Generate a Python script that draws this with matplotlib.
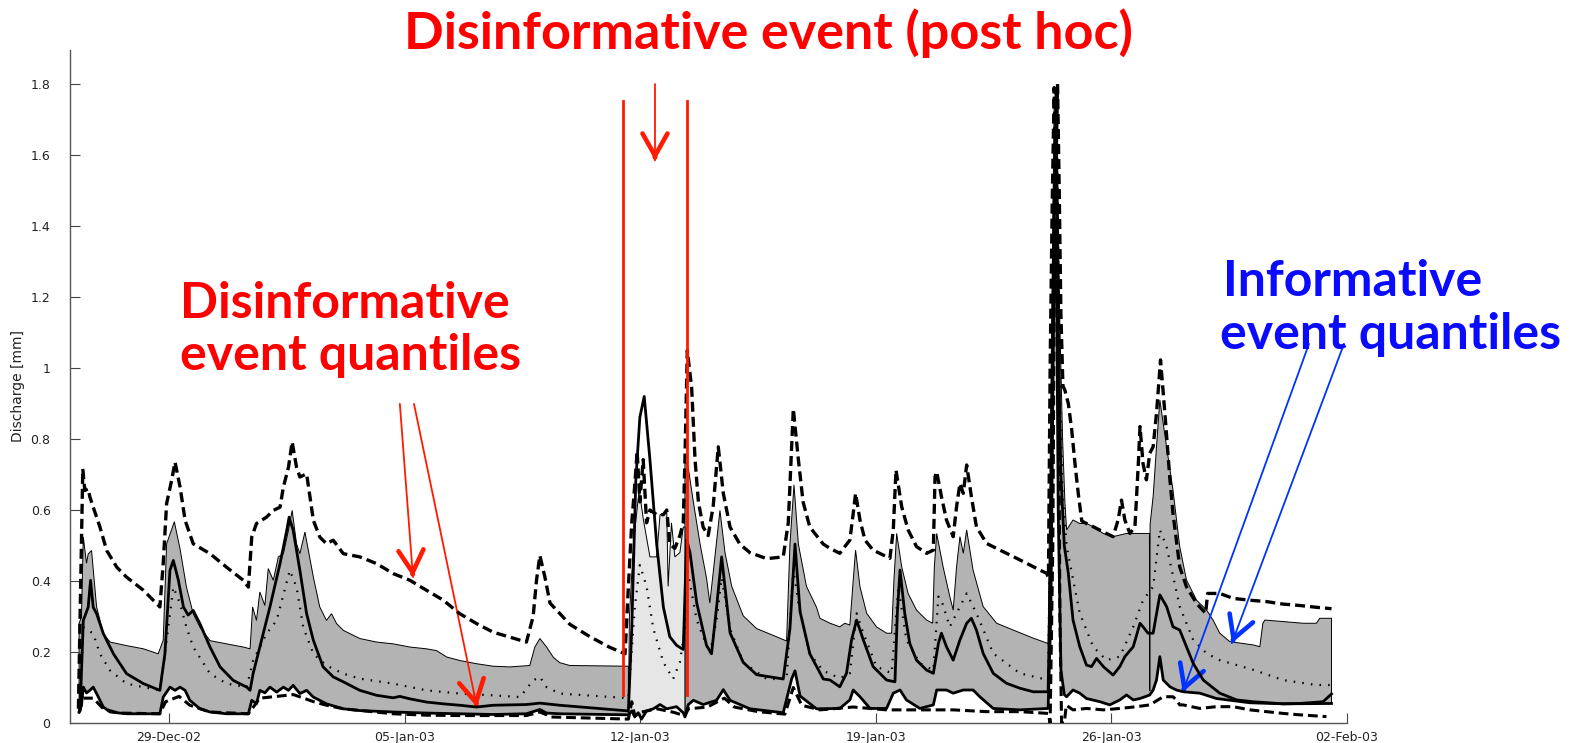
import matplotlib
matplotlib.use("Agg")
import matplotlib.pyplot as plt
import matplotlib.dates as mdates
import numpy as np
from datetime import datetime

T0 = mdates.date2num(datetime(2002, 12, 26))  # day 0 of the series

# all series: (days since 26-Dec-02, discharge in mm)
upper_dashed = [
    (0.31, 0.04), (0.36, 0.30), (0.44, 0.716), (0.50, 0.655), (0.60, 0.66), (0.65, 0.637),
    (0.75, 0.608), (0.95, 0.552), (1.15, 0.486), (1.45, 0.439), (1.74, 0.411), (2.24, 0.374),
    (2.73, 0.327), (2.83, 0.45), (2.93, 0.618), (3.08, 0.684), (3.18, 0.735), (3.33, 0.665),
    (3.48, 0.571), (3.72, 0.505), (4.22, 0.477), (4.71, 0.439), (5.21, 0.402), (5.36, 0.383),
    (5.46, 0.524), (5.60, 0.562), (5.90, 0.580), (6.10, 0.599), (6.30, 0.608), (6.40, 0.665),
    (6.55, 0.720), (6.66, 0.792), (6.79, 0.721), (6.89, 0.693), (7.09, 0.702), (7.29, 0.571),
    (7.48, 0.524), (7.68, 0.505), (7.88, 0.515), (8.18, 0.477), (8.67, 0.468), (9.17, 0.449),
    (9.66, 0.421), (10.16, 0.402), (10.65, 0.374), (11.15, 0.346), (11.64, 0.308), (12.14, 0.280),
    (12.63, 0.256), (13.13, 0.242), (13.62, 0.228), (13.82, 0.30), (13.92, 0.402), (14.02, 0.472),
    (14.17, 0.411), (14.32, 0.338), (14.91, 0.278), (15.51, 0.243), (16.10, 0.213), (16.55, 0.195),
    (16.65, 0.385), (16.75, 0.564), (16.84, 0.671), (16.91, 0.766), (16.99, 0.623), (17.09, 0.742),
    (17.19, 0.564), (17.29, 0.600), (17.49, 0.587), (17.69, 0.587), (17.79, 0.600), (17.88, 0.504),
    (18.03, 0.492), (18.18, 0.528), (18.28, 0.564), (18.33, 0.742), (18.40, 1.05), (18.53, 0.944),
    (18.63, 0.742), (18.73, 0.623), (18.87, 0.552), (19.02, 0.528), (19.17, 0.611), (19.32, 0.778),
    (19.47, 0.647), (19.67, 0.552), (19.96, 0.504), (20.26, 0.480), (20.76, 0.463), (21.25, 0.468),
    (21.40, 0.564), (21.55, 0.885), (21.70, 0.742), (21.84, 0.623), (22.04, 0.552), (22.44, 0.504),
    (22.64, 0.492), (22.93, 0.478), (23.08, 0.497), (23.23, 0.515), (23.33, 0.591), (23.40, 0.647),
    (23.53, 0.572), (23.68, 0.515), (23.92, 0.487), (24.22, 0.473), (24.42, 0.464), (24.52, 0.544),
    (24.60, 0.713), (24.77, 0.609), (24.96, 0.544), (25.21, 0.497), (25.51, 0.478), (25.71, 0.487),
    (25.76, 0.694), (25.81, 0.708), (25.95, 0.638), (26.10, 0.572), (26.30, 0.525), (26.40, 0.609),
    (26.50, 0.675), (26.60, 0.647), (26.70, 0.727), (26.84, 0.638), (26.99, 0.553), (27.29, 0.506),
    (27.69, 0.487), (28.08, 0.469), (28.48, 0.450), (28.87, 0.431), (29.07, 0.422), (29.13, 0.41),
    (29.18, 1.0), (29.24, 1.45), (29.30, 1.79), (29.35, 1.55), (29.40, 1.80), (29.45, 1.50),
    (29.50, 1.15), (29.56, 0.95), (29.62, 0.937), (29.72, 0.900), (29.82, 0.827), (29.92, 0.729),
    (30.02, 0.643), (30.12, 0.569), (30.26, 0.562), (30.46, 0.553), (30.85, 0.534), (31.05, 0.525),
    (31.20, 0.572), (31.30, 0.628), (31.40, 0.572), (31.55, 0.534), (31.70, 0.553), (31.80, 0.731),
    (31.85, 0.835), (31.94, 0.731), (32.04, 0.685), (32.14, 0.760), (32.24, 0.778), (32.34, 0.872),
    (32.46, 1.023), (32.59, 0.872), (32.74, 0.685), (32.83, 0.591), (33.03, 0.440), (33.23, 0.384),
    (33.53, 0.337), (33.80, 0.309), (33.86, 0.365), (34.22, 0.365), (34.62, 0.351), (35.11, 0.346),
    (35.61, 0.342), (36.10, 0.335), (36.60, 0.331), (37.09, 0.326), (37.54, 0.322),
]

band_top = [
    (0.33, 0.28), (0.40, 0.30), (0.455, 0.524), (0.55, 0.45), (0.60, 0.476), (0.70, 0.486),
    (0.85, 0.327), (1.05, 0.252), (1.25, 0.228), (1.74, 0.218), (2.24, 0.209), (2.68, 0.195),
    (2.83, 0.233), (2.93, 0.505), (3.16, 0.567), (3.33, 0.490), (3.52, 0.383), (3.72, 0.308),
    (3.92, 0.270), (4.22, 0.232), (4.71, 0.223), (5.21, 0.214), (5.41, 0.209), (5.485, 0.327),
    (5.60, 0.289), (5.70, 0.369), (5.85, 0.331), (5.95, 0.435), (6.10, 0.402), (6.25, 0.468),
    (6.40, 0.477), (6.55, 0.543), (6.66, 0.599), (6.79, 0.505), (6.89, 0.477), (7.04, 0.538),
    (7.29, 0.411), (7.48, 0.327), (7.68, 0.289), (7.83, 0.308), (7.98, 0.280), (8.18, 0.261),
    (8.67, 0.238), (9.17, 0.228), (9.66, 0.223), (10.16, 0.214), (10.65, 0.209), (10.95, 0.204),
    (11.25, 0.186), (11.64, 0.176), (12.14, 0.167), (12.63, 0.160), (13.13, 0.158), (13.72, 0.162),
    (13.87, 0.214), (14.02, 0.238), (14.22, 0.214), (14.42, 0.185), (14.61, 0.170), (14.91, 0.162),
    (16.65, 0.160),
    (18.33, 0.742), (18.43, 0.718), (18.58, 0.623), (18.78, 0.504), (18.97, 0.409), (19.07, 0.338),
    (19.22, 0.468), (19.37, 0.599), (19.52, 0.480), (19.72, 0.385), (20.06, 0.302), (20.46, 0.266),
    (21.05, 0.243), (21.35, 0.231), (21.45, 0.504), (21.57, 0.671), (21.70, 0.504), (21.94, 0.385),
    (22.24, 0.326), (22.34, 0.295), (22.64, 0.281), (22.93, 0.271), (23.08, 0.281), (23.23, 0.276),
    (23.33, 0.403), (23.40, 0.487), (23.53, 0.384), (23.73, 0.309), (24.02, 0.271), (24.32, 0.253),
    (24.47, 0.253), (24.54, 0.403), (24.62, 0.534), (24.77, 0.440), (24.96, 0.365), (25.21, 0.318),
    (25.51, 0.290), (25.69, 0.281), (25.74, 0.440), (25.81, 0.534), (26.00, 0.440), (26.20, 0.356),
    (26.30, 0.318), (26.40, 0.440), (26.50, 0.525), (26.60, 0.478), (26.70, 0.544), (26.89, 0.431),
    (27.19, 0.328), (27.59, 0.281), (28.08, 0.262), (28.68, 0.239), (29.12, 0.224), (29.20, 0.9),
    (29.30, 1.75), (29.38, 1.78), (29.45, 1.20), (29.55, 0.80), (29.62, 0.62), (29.67, 0.544),
    (29.86, 0.572), (30.06, 0.562), (30.26, 0.562), (30.46, 0.553), (30.76, 0.534), (31.05, 0.525),
    (31.45, 0.534), (31.75, 0.534), (32.13, 0.534), (32.14, 0.09), (32.15, 0.56), (32.24, 0.638),
    (32.34, 0.778), (32.44, 0.91), (32.64, 0.778), (32.83, 0.656), (33.03, 0.497), (33.23, 0.403),
    (33.53, 0.346), (33.83, 0.318), (34.02, 0.290), (34.22, 0.253), (34.52, 0.229), (34.91, 0.224),
    (35.21, 0.220), (35.41, 0.215), (35.50, 0.281), (35.56, 0.290), (36.20, 0.285), (36.70, 0.281),
    (37.09, 0.281), (37.19, 0.295), (37.54, 0.295),
]

# top of the light band during the post hoc disinformative event
event_top = [
    (16.65, 0.023), (16.68, 0.30), (16.80, 0.504), (16.97, 0.659), (17.09, 0.576), (17.29, 0.468),
    (17.49, 0.468), (17.59, 0.587), (17.79, 0.593), (17.83, 0.385), (17.93, 0.564), (18.03, 0.468),
    (18.18, 0.480), (18.28, 0.552), (18.33, 0.552),
]

# heavy jagged lower line (also the bottom of the grey band)
lower_solid = [
    (0.33, 0.03), (0.40, 0.05), (0.455, 0.101), (0.55, 0.085), (0.65, 0.092), (0.75, 0.101),
    (0.85, 0.083), (1.05, 0.045), (1.25, 0.031), (1.74, 0.026), (2.73, 0.026), (2.83, 0.073),
    (3.03, 0.101), (3.18, 0.092), (3.33, 0.101), (3.48, 0.092), (3.62, 0.064), (3.92, 0.040),
    (4.22, 0.031), (4.71, 0.026), (5.36, 0.026), (5.46, 0.064), (5.60, 0.054), (5.70, 0.092),
    (5.85, 0.085), (6.00, 0.101), (6.20, 0.087), (6.40, 0.101), (6.55, 0.092), (6.69, 0.106),
    (6.89, 0.083), (7.09, 0.092), (7.29, 0.073), (7.68, 0.054), (8.18, 0.040), (8.67, 0.035),
    (9.66, 0.031), (10.65, 0.028), (11.64, 0.026), (12.63, 0.024), (13.62, 0.026), (14.02, 0.038),
    (14.22, 0.028), (14.61, 0.026), (16.65, 0.023), (16.75, 0.034), (16.84, 0.017), (16.94, 0.029),
    (17.04, 0.011), (17.19, 0.034), (17.39, 0.040), (17.59, 0.052), (17.79, 0.040), (18.08, 0.046),
    (18.28, 0.029), (18.33, 0.017), (18.43, 0.052), (18.58, 0.064), (18.87, 0.052), (19.27, 0.064),
    (19.47, 0.094), (19.67, 0.064), (20.26, 0.040), (21.25, 0.029), (21.50, 0.124), (21.60, 0.147),
    (21.75, 0.076), (22.24, 0.040), (22.93, 0.041), (23.23, 0.065), (23.33, 0.093), (23.53, 0.074),
    (23.83, 0.041), (24.32, 0.041), (24.52, 0.084), (24.72, 0.093), (24.91, 0.065), (25.31, 0.041),
    (25.71, 0.051), (25.81, 0.093), (26.10, 0.093), (26.30, 0.084), (26.60, 0.093), (26.89, 0.093),
    (27.09, 0.074), (27.49, 0.041), (28.28, 0.037), (29.12, 0.041), (29.20, 0.30), (29.30, 1.30),
    (29.36, 1.40), (29.42, 0.60), (29.50, 0.15), (29.60, 0.08), (29.67, 0.074), (29.86, 0.093),
    (30.06, 0.084), (30.26, 0.069), (30.66, 0.060), (30.95, 0.051), (31.25, 0.065), (31.45, 0.079),
    (31.65, 0.065), (31.85, 0.069), (32.00, 0.074), (32.14, 0.079), (32.24, 0.093), (32.34, 0.121),
    (32.44, 0.187), (32.54, 0.121), (32.74, 0.102), (32.93, 0.093), (33.13, 0.088), (33.63, 0.084),
    (34.12, 0.069), (34.62, 0.063), (35.11, 0.057), (36.10, 0.054), (37.54, 0.055),
]

lower_dashed = [
    (0.33, 0.03), (0.45, 0.07), (0.75, 0.07), (1.05, 0.04), (1.50, 0.028), (2.73, 0.026),
    (2.90, 0.060), (3.30, 0.075), (3.62, 0.050), (4.22, 0.031), (5.36, 0.026), (5.70, 0.070),
    (6.70, 0.080), (7.30, 0.060), (7.68, 0.050), (8.18, 0.040), (9.66, 0.026), (10.65, 0.022),
    (11.64, 0.021), (13.62, 0.021), (14.02, 0.031), (14.22, 0.023), (14.32, 0.017), (16.65, 0.011),
    (16.75, 0.06), (16.84, 0.02), (17.00, 0.03), (17.50, 0.04), (18.00, 0.03), (18.33, 0.02),
    (18.43, 0.04), (19.00, 0.045), (19.50, 0.07), (19.80, 0.045), (20.50, 0.032), (21.30, 0.025),
    (21.55, 0.10), (21.80, 0.05), (22.34, 0.037), (23.33, 0.045), (24.32, 0.037), (25.31, 0.037),
    (26.30, 0.037), (27.29, 0.032), (28.28, 0.032), (29.12, 0.027), (29.18, 0.0), (29.26, 0.5),
    (29.32, 1.5), (29.36, 1.78), (29.42, 1.2), (29.47, 0.3), (29.52, 0.0), (29.60, 0.0),
    (29.66, 0.05), (29.86, 0.037), (30.26, 0.041), (30.76, 0.037), (31.25, 0.041), (31.75, 0.046),
    (32.14, 0.051), (32.54, 0.074), (32.83, 0.074), (32.93, 0.065), (33.03, 0.051), (33.13, 0.051),
    (33.63, 0.041), (34.12, 0.046), (34.62, 0.046), (35.11, 0.037), (35.61, 0.032), (36.10, 0.027),
    (36.60, 0.023), (37.39, 0.018),
]

median = [
    (0.36, 0.036), (0.455, 0.289), (0.60, 0.326), (0.67, 0.402), (0.75, 0.326), (0.85, 0.308),
    (1.05, 0.252), (1.35, 0.195), (1.74, 0.139), (2.24, 0.111), (2.73, 0.092), (2.88, 0.195),
    (3.03, 0.430), (3.13, 0.458), (3.28, 0.402), (3.43, 0.327), (3.57, 0.304), (3.72, 0.317),
    (3.92, 0.280), (4.22, 0.214), (4.52, 0.158), (4.91, 0.120), (5.31, 0.101), (5.41, 0.092),
    (5.50, 0.139), (5.70, 0.214), (6.00, 0.327), (6.30, 0.449), (6.50, 0.543), (6.57, 0.580),
    (6.69, 0.543), (6.89, 0.430), (7.09, 0.308), (7.29, 0.233), (7.58, 0.158), (7.88, 0.130),
    (8.18, 0.116), (8.67, 0.092), (9.17, 0.078), (9.66, 0.071), (9.86, 0.075), (10.16, 0.068),
    (10.65, 0.059), (11.15, 0.054), (11.64, 0.050), (12.14, 0.045), (12.63, 0.050), (13.62, 0.052),
    (14.02, 0.056), (14.61, 0.050), (16.65, 0.034), (16.75, 0.266), (16.87, 0.683), (16.99, 0.861),
    (17.12, 0.920), (17.29, 0.742), (17.49, 0.504), (17.69, 0.326), (17.88, 0.243), (18.08, 0.219),
    (18.28, 0.207), (18.38, 0.516), (18.48, 0.480), (18.68, 0.338), (18.97, 0.219), (19.12, 0.195),
    (19.27, 0.326), (19.42, 0.468), (19.67, 0.254), (20.06, 0.171), (20.46, 0.136), (21.25, 0.124),
    (21.45, 0.266), (21.60, 0.504), (21.75, 0.314), (22.04, 0.195), (22.44, 0.124), (22.64, 0.121),
    (22.93, 0.102), (23.13, 0.140), (23.28, 0.234), (23.43, 0.290), (23.63, 0.234), (23.92, 0.159),
    (24.32, 0.121), (24.57, 0.116), (24.64, 0.309), (24.72, 0.431), (24.86, 0.309), (25.01, 0.224),
    (25.21, 0.177), (25.51, 0.149), (25.71, 0.140), (25.86, 0.224), (25.95, 0.253), (26.10, 0.215),
    (26.30, 0.177), (26.50, 0.234), (26.70, 0.281), (26.84, 0.295), (26.99, 0.262), (27.19, 0.196),
    (27.49, 0.140), (27.88, 0.112), (28.28, 0.098), (28.68, 0.088), (29.12, 0.088), (29.20, 0.50),
    (29.30, 1.50), (29.36, 1.60), (29.42, 1.10), (29.50, 0.70), (29.60, 0.50), (29.72, 0.422),
    (29.86, 0.290), (30.06, 0.215), (30.26, 0.163), (30.41, 0.159), (30.56, 0.182), (30.76, 0.159),
    (31.05, 0.135), (31.25, 0.159), (31.40, 0.187), (31.65, 0.215), (31.85, 0.281), (31.94, 0.271),
    (32.09, 0.253), (32.24, 0.253), (32.44, 0.361), (32.64, 0.328), (32.83, 0.271), (33.03, 0.262),
    (33.23, 0.215), (33.43, 0.168), (33.73, 0.121), (34.22, 0.084), (34.72, 0.065), (35.21, 0.060),
    (36.10, 0.054), (36.60, 0.055), (37.29, 0.060), (37.54, 0.082),
]

dotted = [
    (0.36, 0.05), (0.455, 0.270), (0.75, 0.252), (0.95, 0.195), (1.25, 0.148), (1.74, 0.111),
    (2.24, 0.101), (2.73, 0.092), (2.88, 0.195), (3.13, 0.383), (3.33, 0.336), (3.52, 0.270),
    (3.72, 0.214), (4.22, 0.139), (4.71, 0.111), (5.31, 0.101), (5.50, 0.176), (5.90, 0.252),
    (6.20, 0.289), (6.59, 0.430), (6.79, 0.383), (6.99, 0.270), (7.29, 0.195), (7.68, 0.162),
    (8.18, 0.139), (8.67, 0.125), (9.66, 0.111), (10.65, 0.092), (11.64, 0.083), (12.63, 0.078),
    (13.43, 0.073), (13.82, 0.120), (14.02, 0.130), (14.22, 0.101), (14.61, 0.083), (16.65, 0.070),
    (16.75, 0.207), (16.84, 0.326), (16.99, 0.445), (17.19, 0.385), (17.39, 0.266), (17.69, 0.171),
    (17.98, 0.124), (18.18, 0.171), (18.33, 0.266), (18.38, 0.445), (18.68, 0.290), (19.07, 0.195),
    (19.27, 0.290), (19.42, 0.409), (19.67, 0.266), (20.06, 0.171), (20.76, 0.124), (21.35, 0.124),
    (21.55, 0.433), (21.70, 0.338), (22.04, 0.195), (22.44, 0.147), (22.93, 0.126), (23.23, 0.140),
    (23.43, 0.309), (23.63, 0.253), (24.02, 0.159), (24.47, 0.140), (24.67, 0.384), (24.91, 0.234),
    (25.31, 0.168), (25.71, 0.149), (25.86, 0.356), (25.95, 0.346), (26.20, 0.271), (26.40, 0.309),
    (26.70, 0.365), (26.99, 0.309), (27.49, 0.196), (28.28, 0.140), (29.12, 0.121), (29.20, 0.70),
    (29.30, 1.40), (29.38, 1.50), (29.45, 1.00), (29.55, 0.65), (29.67, 0.497), (30.06, 0.309),
    (30.46, 0.215), (30.85, 0.177), (31.25, 0.187), (31.65, 0.271), (31.94, 0.346), (32.24, 0.384),
    (32.44, 0.544), (32.64, 0.497), (33.03, 0.328), (33.43, 0.234), (33.83, 0.196), (34.22, 0.177),
    (35.21, 0.150), (36.10, 0.121), (37.09, 0.107), (37.54, 0.107),
]

tick_days = [3, 10, 17, 24, 31, 38]
yticks = [0, 0.2, 0.4, 0.6, 0.8, 1, 1.2, 1.4, 1.6, 1.8]
event_days = (16.65, 18.33)   # light band
red_lines = [16.49, 18.39]    # drawn by hand on the slide

RED = '#ff1a00'
BLUE = '#0033ff'
BIG = dict(fontsize=36, fontweight='bold', family=['Lato', 'DejaVu Sans'])


def xy(series):
    a = np.array(series, dtype=float)
    return T0 + a[:, 0], a[:, 1]


def band(ax, top, bottom, d0, d1, color):
    tt, vt = xy(top)
    tb, vb = xy(bottom)
    mt = (tt >= T0 + d0 - 1e-6) & (tt <= T0 + d1 + 1e-6)
    mb = (tb >= T0 + d0 - 1e-6) & (tb <= T0 + d1 + 1e-6)
    xs = np.concatenate([tt[mt], tb[mb][::-1]])
    ys = np.concatenate([vt[mt], vb[mb][::-1]])
    ax.fill(xs, ys, facecolor=color, edgecolor='black', lw=0.7, zorder=1)


def arrow(ax, start, tip, color):
    # thin shaft, heavy open head
    s = np.array([T0 + start[0], start[1]])
    e = np.array([T0 + tip[0], tip[1]])
    ax.annotate('', xy=e, xytext=s, annotation_clip=False,
                arrowprops=dict(arrowstyle='-', color=color, lw=1.3, shrinkA=0, shrinkB=0))
    ps, pe = ax.transData.transform(s), ax.transData.transform(e)
    u = (pe - ps) / np.hypot(*(pe - ps))
    back = ax.transData.inverted().transform(pe - 3 * u)
    ax.annotate('', xy=e, xytext=back, annotation_clip=False,
                arrowprops=dict(arrowstyle='->,head_length=0.8,head_width=0.45', color=color,
                                lw=3.3, shrinkA=0, shrinkB=0, mutation_scale=20,
                                capstyle='round', joinstyle='round'))


fig = plt.figure(figsize=(15.85, 7.43), dpi=100)
ax = fig.add_axes([70 / 1585, 20 / 743, 1277 / 1585, 673 / 743])
ax.set_xlim(T0 + 0.06, T0 + 38.0)
ax.set_ylim(0, 1.896)

band(ax, band_top, lower_solid, 0.0, event_days[0], '#b3b3b3')
band(ax, band_top, lower_solid, event_days[1], 40.0, '#b3b3b3')
band(ax, event_top, lower_solid, event_days[0], event_days[1], '#e6e6e6')

ax.plot(*xy(dotted), color='black', lw=1.6, linestyle=(0, (0.7, 3.2)), zorder=3)
ax.plot(*xy(lower_dashed), color='black', lw=2.2, dashes=(3.2, 1.6), zorder=3)
ax.plot(*xy(lower_solid), color='black', lw=2.0, zorder=4)
ax.plot(*xy(median), color='black', lw=2.0, zorder=4)
ax.plot(*xy(upper_dashed), color='black', lw=2.4, dashes=(3.0, 1.5), zorder=5)

for spine in ['top', 'right']:
    ax.spines[spine].set_visible(False)
for spine in ['left', 'bottom']:
    ax.spines[spine].set_color('#555555')
    ax.spines[spine].set_linewidth(1.0)

ax.set_xticks([T0 + d for d in tick_days])
ax.xaxis.set_major_formatter(mdates.DateFormatter('%d-%b-%y'))
ax.set_yticks(yticks)
ax.set_yticklabels(['0', '0.2', '0.4', '0.6', '0.8', '1', '1.2', '1.4', '1.6', '1.8'])
ax.tick_params(direction='in', length=7, width=0.8, color='#444444', labelsize=9,
               labelcolor='#222222')
ax.tick_params(axis='y', pad=14)
ax.tick_params(axis='x', pad=6)
ax.set_ylabel('Discharge [mm]', fontsize=10, color='#222222',
              family=['Liberation Sans Narrow', 'DejaVu Sans'])
ax.yaxis.set_label_coords(-0.035, 0.5)

# hand-drawn annotations of the slide
for d in red_lines:
    ax.plot([T0 + d, T0 + d], [0.079, 1.752], color=RED, lw=2.0, zorder=8)
arrow(ax, (17.44, 1.80), (17.44, 1.585), RED)
arrow(ax, (9.86, 0.899), (10.25, 0.411), RED)
arrow(ax, (10.28, 0.899), (12.15, 0.045), RED)
arrow(ax, (36.87, 1.068), (33.12, 0.087), BLUE)
arrow(ax, (37.91, 1.068), (34.58, 0.225), BLUE)

fig.text(768 / 1585, 1 - 49 / 743, 'Disinformative event (post hoc)', ha='center',
         va='baseline', color='#ff0000', **dict(BIG, fontsize=37.5))
fig.text(180 / 1585, 1 - 318 / 743, 'Disinformative', ha='left', va='baseline',
         color='#ff0000', **BIG)
fig.text(180 / 1585, 1 - 370 / 743, 'event quantiles', ha='left', va='baseline',
         color='#ff0000', **BIG)
fig.text(1223 / 1585, 1 - 296 / 743, 'Informative', ha='left', va='baseline',
         color='#0a0aff', **BIG)
fig.text(1220 / 1585, 1 - 349 / 743, 'event quantiles', ha='left', va='baseline',
         color='#0a0aff', **BIG)

fig.savefig('out.png', dpi=100)
